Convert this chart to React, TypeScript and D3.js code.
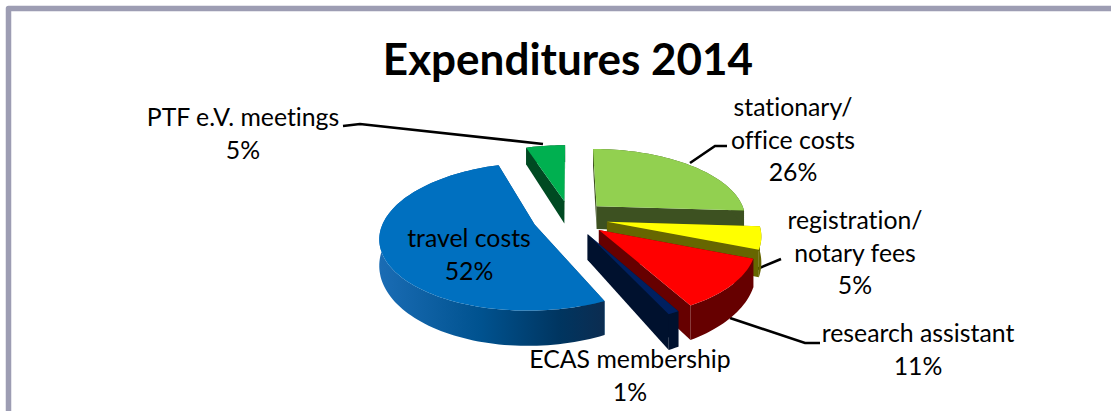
import React from 'react';
import * as d3 from 'd3';

// slices in clockwise order, starting at twelve o'clock
const categories = ['stationary/ office costs', 'registration/ notary fees', 'research assistant', 'ECAS membership', 'travel costs', 'PTF e.V. meetings'];
const shares = [26, 5, 11, 1, 52, 5];
const topColors = ['#92d050', '#ffff00', '#ff0000', '#002060', '#0070c0', '#00b050'];
const wallColors = ['#3d5121', '#666600', '#660000', '#00112e', '#004a80', '#004a22'];

const labelLines = [
    ['stationary/', 'office costs', '26%'],
    ['registration/', 'notary fees', '5%'],
    ['research assistant', '11%'],
    ['ECAS membership', '1%'],
    ['travel costs', '52%'],
    ['PTF e.V. meetings', '5%'],
];
const labelAnchors = [[793, 116], [855, 229], [918, 342], [630, 368], [469, 247], [243, 126]];
const leaders = [
    [[727, 146], [715, 146], [690, 163]],
    [[781, 259], [757, 269]],
    [[820, 343], [805, 343], [730, 318]],
    [],
    [],
    [[343, 126], [360, 124], [543, 144]],
];

const width = 1111;
const height = 411;
const font = 'Lato, sans-serif';

const cx = 570;
const cy = 218;
const rx = 150;
const ry = 70;
const depth = 24;
const perspective = 0.16;
const explode = 0.25;

type Pt = [number, number];

// disc coords -> screen, y grows towards the viewer
const project = (X: number, Y: number, low = false): Pt => {
    const s = 1 / (1 - perspective * Y);
    return [cx + rx * X * s, cy + ry * Y * s + (low ? depth * s * s : 0)];
};

const line = d3.line<Pt>();

const App: React.FC = () => {
    const arcs = d3.pie<number>().sort(null)(shares);

    const slices = arcs.map((a, i) => {
        const mid = (a.startAngle + a.endAngle) / 2;
        const ox = explode * Math.sin(mid);
        const oy = -explode * Math.cos(mid);
        const steps = Math.max(2, Math.ceil((a.endAngle - a.startAngle) / 0.03));
        const angles = d3.range(steps + 1).map(k => a.startAngle + (a.endAngle - a.startAngle) * k / steps);
        const rim = (low: boolean) => angles.map(t => project(ox + Math.sin(t), oy - Math.cos(t), low));
        const apex = project(ox, oy);
        const apexLow = project(ox, oy, true);
        const top = rim(false);
        const bottom = rim(true);
        const radial = (p: Pt, q: Pt) => line([apex, p, q, apexLow])! + 'Z';
        return {
            i,
            topPath: line([apex, ...top])! + 'Z',
            rimPath: line([...top, ...bottom.slice().reverse()])! + 'Z',
            startWall: radial(top[0], bottom[0]),
            endWall: radial(top[steps], bottom[steps]),
        };
    });

    return (
        <svg width={width} height={height} viewBox={`0 0 ${width} ${height}`}
            style={{ position: 'absolute', left: 0, top: 0, display: 'block', background: '#fff', fontVariantLigatures: 'none' }}>
            <defs>
                <linearGradient id="travelWall" gradientUnits="userSpaceOnUse" x1={380} x2={605} y1={0} y2={0}>
                    <stop offset="0" stopColor="#1a6cb4" />
                    <stop offset="0.45" stopColor="#00528f" />
                    <stop offset="0.8" stopColor="#003560" />
                    <stop offset="1" stopColor="#0c2c50" />
                </linearGradient>
            </defs>

            <path d={`M8.5,${height} V8.5 H${width}`} fill="none" stroke="#9d9db3" strokeWidth={5.5} strokeLinejoin="round" />

            <text x={568} y={75} textAnchor="middle" fontFamily={font} fontWeight={700} fontSize={44} fill="#000">Expenditures 2014</text>

            {leaders.map((pts, i) => pts.length > 0 && (
                <path key={i} d={line(pts as Pt[])!} fill="none" stroke="#000" strokeWidth={2.6} />
            ))}

            {slices.map(s => {
                const wall = categories[s.i] === 'travel costs' ? 'url(#travelWall)' : wallColors[s.i];
                return (
                    <g key={s.i}>
                        <path d={s.startWall} fill={wallColors[s.i]} />
                        <path d={s.endWall} fill={wallColors[s.i]} />
                        <path d={s.rimPath} fill={wall} />
                        <path d={s.topPath} fill={topColors[s.i]} />
                    </g>
                );
            })}

            {labelLines.map((lines, i) => (
                <text key={i} textAnchor="middle" fontFamily={font} fontSize={24.8} fill="#000">
                    {lines.map((t, j) => (
                        <tspan key={j} x={labelAnchors[i][0]} y={labelAnchors[i][1] + j * 32.5}>{t}</tspan>
                    ))}
                </text>
            ))}
        </svg>
    );
};

export default App;
